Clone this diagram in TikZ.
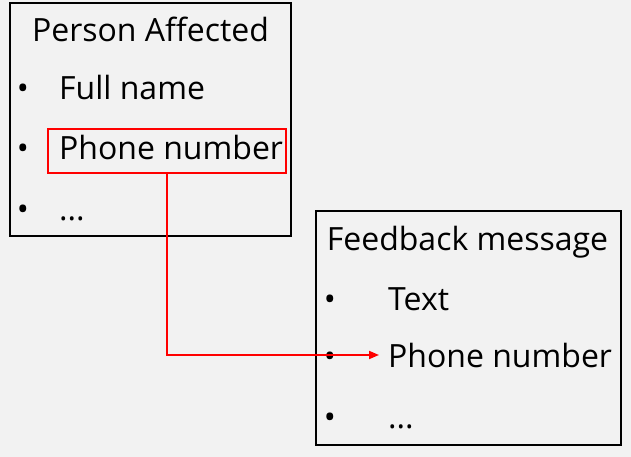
\documentclass[tikz,border=0pt]{standalone}
\usepackage{fontspec}
\setmainfont{Open Sans}
\usetikzlibrary{arrows.meta,positioning}
\definecolor{slidebg}{RGB}{242,242,242}
\definecolor{linkred}{RGB}{255,0,0}

\begin{document}
\begin{tikzpicture}[x=1pt,y=-1pt,
  entity/.style={draw=black,line width=1.5pt,inner sep=0pt},
  item/.style={anchor=base west,inner sep=0pt,font=\fontsize{32}{38}\selectfont},
  bul/.style={anchor=base,inner sep=0pt,font=\fontsize{32}{38}\selectfont},
  link/.style={color=linkred,line width=1.8pt}]
  % background
  \fill[slidebg] (0,0) rectangle (631,457);
  \useasboundingbox (0,0) rectangle (631,457);
  % Left: person affected
  \node[entity,minimum width=281pt,minimum height=233pt] (paBox) at (150.5,119.5) {};
  \node[item,anchor=base] (paTitle) at (150.5,42) {Person Affected};
  \node[bul] (paDot1) at (23,100) {•};
  \node[item] (paName) at (59,100) {Full name};
  \node[bul] (paDot2) at (23,160) {•};
  \node[item] (paPhone) at (59,160) {Phone number};
  \node[bul] (paDot3) at (23,220) {•};
  \node[item] (paMore) at (59,220) {...};
  \node[draw,link,minimum width=238pt,minimum height=44pt,inner sep=0pt] (paPick) at (167,151) {};
  % Right: feedback message
  \node[entity,minimum width=305pt,minimum height=234pt] (fbBox) at (468.5,328) {};
  \node[item,anchor=base] (fbTitle) at (467.5,250) {Feedback message};
  \node[bul] (fbDot1) at (330,310) {•};
  \node[item] (fbText) at (388,310) {Text};
  \node[bul] (fbDot2) at (330,367) {•};
  \node[item] (fbPhone) at (388,367) {Phone number};
  \node[bul] (fbDot3) at (330,428) {•};
  \node[item] (fbMore) at (388,428) {...};
  % Arrow
  \draw[link,-{Triangle[length=10pt,width=8pt]}] (paPick.south) |- ([xshift=-9pt]fbPhone.west);
\end{tikzpicture}
\end{document}
